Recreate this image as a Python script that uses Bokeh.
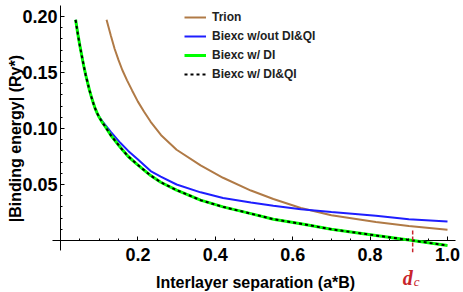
import math
from bokeh.plotting import figure
from bokeh.models import FixedTicker, Label, Legend, LegendItem
from bokeh.embed import file_html
from bokeh.resources import INLINE

# ---- data ----
trion_x = [0.119, 0.13, 0.14, 0.15, 0.16, 0.172, 0.185, 0.2, 0.216, 0.233, 0.26, 0.3, 0.362, 0.42, 0.492, 0.55, 0.621, 0.7, 0.815, 0.9, 1.0]
trion_y = [0.197, 0.183, 0.171, 0.161, 0.152, 0.143, 0.134, 0.124, 0.115, 0.106, 0.094, 0.081, 0.067, 0.056, 0.0446, 0.037, 0.029, 0.0225, 0.0165, 0.013, 0.0095]

blue_x = [0.039, 0.045, 0.05, 0.055, 0.06, 0.065, 0.07, 0.075, 0.08, 0.085, 0.09, 0.095, 0.1, 0.107, 0.115, 0.13, 0.155, 0.175, 0.198, 0.233, 0.259, 0.3, 0.362, 0.42, 0.492, 0.55, 0.621, 0.7, 0.815, 0.9, 1.0]
blue_y = [0.197, 0.184, 0.174, 0.165, 0.156, 0.148, 0.141, 0.134, 0.128, 0.1225, 0.1175, 0.1135, 0.1105, 0.107, 0.1035, 0.097, 0.087, 0.080, 0.073, 0.062, 0.057, 0.050, 0.043, 0.038, 0.034, 0.031, 0.028, 0.0255, 0.022, 0.019, 0.017]

green_x = [0.039, 0.045, 0.05, 0.055, 0.06, 0.065, 0.07, 0.075, 0.08, 0.085, 0.09, 0.095, 0.1, 0.107, 0.115, 0.13, 0.155, 0.175, 0.198, 0.233, 0.259, 0.3, 0.362, 0.42, 0.492, 0.55, 0.621, 0.7, 0.815, 0.91, 1.0]
green_y = [0.197, 0.184, 0.174, 0.165, 0.156, 0.148, 0.141, 0.134, 0.128, 0.1225, 0.1175, 0.1135, 0.110, 0.106, 0.102, 0.094, 0.083, 0.075, 0.068, 0.058, 0.052, 0.045, 0.036, 0.030, 0.024, 0.019, 0.015, 0.010, 0.0045, 0.0, -0.0045]

# DI&QI curve coincides with DI curve
dq_x = green_x
dq_y = green_y

d_c = 0.91
dc_marker_y = [0.009, -0.0105]

x_ticks = [0.2, 0.4, 0.6, 0.8, 1.0]
x_minor = [0.05, 0.1, 0.15, 0.25, 0.3, 0.35, 0.45, 0.5, 0.55, 0.65, 0.7, 0.75, 0.85, 0.9, 0.95]
y_ticks = [0.05, 0.10, 0.15, 0.20]
y_minor = [round(0.01 * i, 2) for i in range(1, 21)]

x_axis_extent = [-0.0207, 1.0207]
y_axis_extent = [-0.0089, 0.2098]

series_names = ["Trion", "Biexc w/out DI&QI", "Biexc w/ DI", "Biexc w/ DI&QI"]
x_title = "Interlayer separation (a*B)"
y_title = "|Binding energy| (Ry*)"

# ---- figure ----
W, H = 463, 292
X0, XS = 60, 387     # pixel of x=0, pixels per unit
Y0, YS = 240, 1120   # pixel of y=0, pixels per unit
p = figure(width=W, height=H, output_backend="svg", toolbar_location=None,
           x_range=(-X0 / XS, (W - X0) / XS), y_range=(-(H - Y0) / YS, Y0 / YS),
           min_border_left=0, min_border_right=0, min_border_top=0, min_border_bottom=0)
p.outline_line_color = None
p.grid.visible = False
p.background_fill_color = "white"

# axis lines
p.line(x_axis_extent, [0, 0], line_color="black", line_width=1)
p.line([0, 0], y_axis_extent, line_color="black", line_width=1)

r_trion = p.line(trion_x, trion_y, line_color="#B07A46", line_width=2)
r_blue = p.line(blue_x, blue_y, line_color="#1E1EFF", line_width=2)
r_green = p.line(green_x, green_y, line_color="#00FF00", line_width=3)
r_dq = p.line(dq_x, dq_y, line_color="black", line_width=2, line_dash="3 3")

# d_c marker
p.line([d_c, d_c], dc_marker_y, line_color="#C8242B", line_width=1.5, line_dash="4 2")

# axes
for ax in (p.xaxis, p.yaxis):
    ax.fixed_location = 0
    ax.axis_line_color = None
    ax.major_tick_line_color = "black"
    ax.minor_tick_line_color = "black"
    ax.major_tick_in = 4
    ax.major_tick_out = 0
    ax.minor_tick_in = 2
    ax.minor_tick_out = 0
    ax.major_label_text_font = "Liberation Sans"
    ax.major_label_text_font_style = "bold"
    ax.major_label_text_font_size = "18px"
    ax.major_label_text_color = "black"

p.xaxis.ticker = FixedTicker(ticks=x_ticks, minor_ticks=x_minor)
p.yaxis.ticker = FixedTicker(ticks=y_ticks, minor_ticks=y_minor)
p.xaxis.major_label_overrides = {t: f"{t:.1f}" for t in x_ticks}
p.yaxis.major_label_overrides = {t: f"{t:.2f}" for t in y_ticks}
p.xaxis.major_label_standoff = 7
p.yaxis.major_label_standoff = 3

# axis titles
p.add_layout(Label(x=0.504, y=0, y_offset=-42, text=x_title, text_align="center",
                   text_baseline="alphabetic", text_font="Liberation Sans",
                   text_font_style="bold", text_font_size="16px", text_color="black"))
p.add_layout(Label(x=0, y=0.091, x_offset=-45, text=y_title, angle=math.pi / 2,
                   text_align="center", text_baseline="middle", text_font="Liberation Sans",
                   text_font_style="bold", text_font_size="16px", text_color="black"))

# d_c label
p.add_layout(Label(x=d_c, y=0, x_offset=-5, y_offset=-37, text="d", text_align="center",
                   text_baseline="alphabetic", text_font="Liberation Serif",
                   text_font_style="bold italic", text_font_size="20px", text_color="#C8242B"))
p.add_layout(Label(x=d_c, y=0, x_offset=1, y_offset=-41, text="c", text_align="left",
                   text_baseline="alphabetic", text_font="Liberation Serif",
                   text_font_style="italic", text_font_size="13px", text_color="#C8242B"))

legend = Legend(items=[LegendItem(label=series_names[0], renderers=[r_trion]),
                       LegendItem(label=series_names[1], renderers=[r_blue]),
                       LegendItem(label=series_names[2], renderers=[r_green]),
                       LegendItem(label=series_names[3], renderers=[r_dq])],
                location=(184, 210))
legend.padding = 0
legend.margin = 0
legend.spacing = 3
legend.glyph_height = 16
legend.label_height = 16
legend.glyph_width = 22
legend.label_standoff = 6
legend.border_line_alpha = 0
legend.background_fill_alpha = 0
legend.label_text_font = "Liberation Sans"
legend.label_text_font_style = "bold"
legend.label_text_font_size = "12px"
legend.label_text_color = "#222222"
p.add_layout(legend, "center")

open("out.html", "w").write(file_html(p, INLINE))
